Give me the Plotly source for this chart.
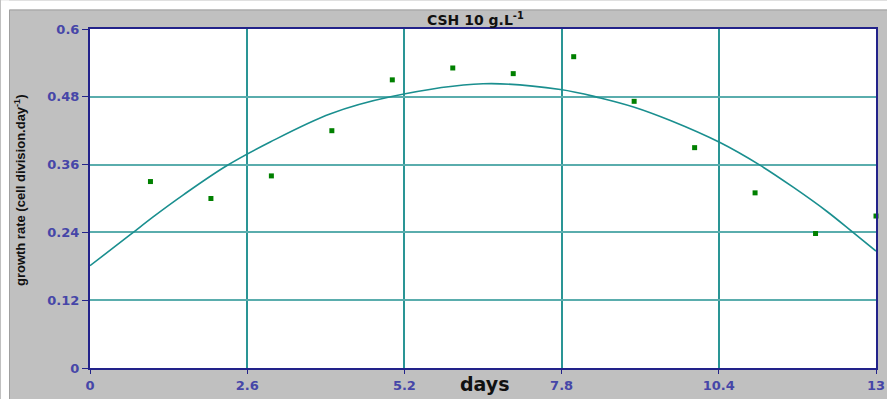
import plotly.graph_objects as go

# measured data points
days = [1, 2, 3, 4, 5, 6, 7, 8, 9, 10, 11, 12, 13]
growth_rate = [0.33, 0.30, 0.34, 0.42, 0.51, 0.531, 0.521, 0.551, 0.472, 0.39, 0.31, 0.238, 0.269]

# trend curve
trend_days = [0, 0.666, 1.05, 1.55, 2.26, 2.98, 3.98, 4.97, 6.5, 7.78, 8.44, 8.99,
              9.6, 10.42, 11.08, 11.63, 12.19, 12.62, 13]
trend_rate = [0.181, 0.236, 0.268, 0.307, 0.358, 0.400, 0.450, 0.480, 0.503, 0.493, 0.478, 0.462,
              0.438, 0.399, 0.359, 0.320, 0.277, 0.240, 0.207]

x_ticks = [0, 2.6, 5.2, 7.8, 10.4, 13]
x_tick_text = ["0", "2.6", "5.2", "7.8", "10.4", "13"]
y_ticks = [0, 0.12, 0.24, 0.36, 0.48, 0.6]
y_tick_text = ["0", "0.12", "0.24", "0.36", "0.48", "0.6"]

# the capture is slightly down-scaled; compensate
SX, SY = 896 / 887, 404 / 399
W, H = 896, 404
L, R, T, B = round(89 * SX), round(876 * SX), round(29 * SY), round(370 * SY)

def px(xs):
    return (xs * SX - L) / (R - L)

def py(ys):
    return (B - ys * SY) / (B - T)

fig = go.Figure()
fig.add_trace(go.Scatter(x=trend_days, y=trend_rate, mode="lines",
                         line=dict(color="#1a8f8f", width=1.6, shape="spline", smoothing=1.0),
                         hoverinfo="skip", showlegend=False, cliponaxis=False))
fig.add_trace(go.Scatter(x=days, y=growth_rate, mode="markers",
                         marker=dict(symbol="square", size=5, color="#008000"),
                         showlegend=False, cliponaxis=False))

axis_font = dict(family="DejaVu Sans, Verdana, sans-serif", size=13, color="#4646a8", weight="bold")
fig.update_xaxes(range=[0, 13], tickvals=x_ticks, ticktext=x_tick_text,
                 showgrid=True, gridcolor="#2a9595", gridwidth=2,
                 showline=True, linecolor="#22228a", linewidth=2, mirror=True,
                 ticks="outside", ticklen=4, tickcolor="#22228a",
                 tickfont=axis_font, zeroline=False, fixedrange=True)
fig.update_yaxes(range=[0, 0.6], tickvals=y_ticks, ticktext=y_tick_text,
                 showgrid=True, gridcolor="#5aadad", gridwidth=2,
                 showline=True, linecolor="#22228a", linewidth=2, mirror=True,
                 ticks="outside", ticklen=6, tickcolor="#22228a",
                 tickfont=axis_font, zeroline=False, fixedrange=True)

shapes = [
    dict(type="rect", xref="paper", yref="paper", x0=px(0), x1=px(900), y0=py(0), y1=py(9),
         fillcolor="white", line=dict(width=0), layer="below"),
    dict(type="rect", xref="paper", yref="paper", x0=px(0), x1=px(8), y0=py(410), y1=py(0),
         fillcolor="white", line=dict(width=0), layer="below"),
    dict(type="line", xref="paper", yref="paper", x0=px(8.5), x1=px(900), y0=py(9.5), y1=py(9.5),
         line=dict(color="#a0a0a0", width=1), layer="below"),
    dict(type="line", xref="paper", yref="paper", x0=px(8.5), x1=px(8.5), y0=py(9.5), y1=py(410),
         line=dict(color="#a0a0a0", width=1), layer="below"),
]

annotations = [
    dict(text="<b>CSH 10 g.L<sup>-1</sup></b>", xref="paper", yref="paper",
         x=px(475), y=py(19), showarrow=False, xanchor="center", yanchor="middle",
         font=dict(family="DejaVu Sans, Verdana, sans-serif", size=14, color="#111111")),
    dict(text="<b>days</b>", xref="paper", yref="paper",
         x=px(485), y=py(386), showarrow=False, xanchor="center", yanchor="middle",
         font=dict(family="DejaVu Sans, Verdana, sans-serif", size=19, color="#111111")),
    dict(text="<b>growth rate (cell division.day<sup>-1</sup>)</b>", xref="paper", yref="paper",
         x=px(19), y=py(191), showarrow=False, textangle=-90, xanchor="center", yanchor="middle",
         font=dict(family="Liberation Sans, Arial, sans-serif", size=13, color="#111111")),
]

fig.update_layout(width=W, height=H, margin=dict(l=L, r=W - R, t=T, b=H - B, pad=0),
                  paper_bgcolor="#c0c0c0", plot_bgcolor="white",
                  shapes=shapes, annotations=annotations, showlegend=False)

fig.write_html("out.html", config={"displayModeBar": False},
               post_script="document.body.style.margin='0';document.body.style.overflow='hidden';")
